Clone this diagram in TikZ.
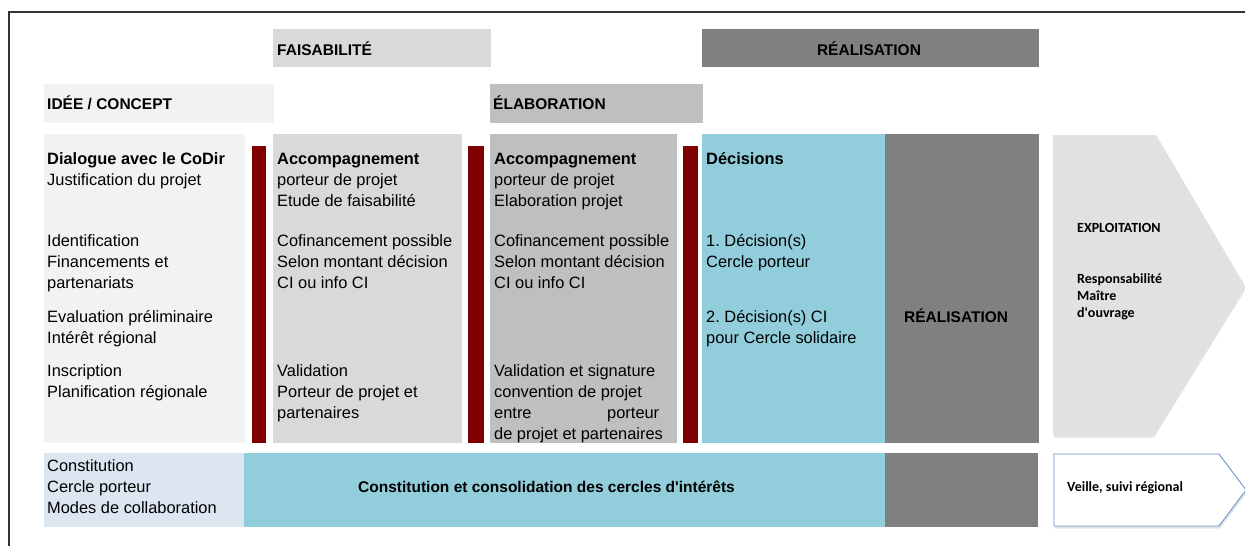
\documentclass[tikz,border=0pt]{standalone}
\usepackage{fontspec}
\setmainfont{Liberation Sans}
\newfontfamily\calib{Carlito}
\usetikzlibrary{shadows}
\definecolor{colA}{HTML}{F2F2F2}
\definecolor{colB}{HTML}{D9D9D9}
\definecolor{colC}{HTML}{BFBFBF}
\definecolor{colD}{HTML}{92CDDC}
\definecolor{colE}{HTML}{808080}
\definecolor{colF}{HTML}{DCE6F1}
\definecolor{colR}{HTML}{7F0000}
\definecolor{colX}{HTML}{E1E1E1}
\definecolor{colV}{HTML}{6A90CC}
\definecolor{frameC}{HTML}{333333}
\frenchspacing
\begin{document}
\begin{tikzpicture}[x=1pt,y=-1pt,
  lbl/.style={anchor=base west,inner sep=0pt,font=\fontsize{16.4}{21}\selectfont},
  blbl/.style={lbl,font=\fontsize{16.4}{21}\selectfont\bfseries},
  hdr/.style={anchor=base west,inner sep=0pt,font=\fontsize{15.5}{19}\selectfont\bfseries},
  cal/.style={anchor=base west,inner sep=0pt,font=\calib\fontsize{14}{17}\selectfont\bfseries},
  redbar/.style={fill=colR},
  shad/.style={drop shadow={shadow xshift=1pt,shadow yshift=-2.5pt,opacity=0.22}}]
\useasboundingbox (0,0) rectangle (1245,546);
\fill[white] (0,0) rectangle (1245,546);
% frame
\draw[line width=1.4pt,frameC] (9,547) -- (9,12) -- (1250,12);
% headers
\fill[colB] (273,29) rectangle (491,67);
\fill[colE] (702,29) rectangle (1039,67);
\fill[colA] (44,84) rectangle (274,123);
\fill[colC] (490,84) rectangle (703,123);
\node[hdr] (hfais) at (277,55) {FAISABILITÉ};
\node[hdr,anchor=base] (hreal) at (869,55) {RÉALISATION};
\node[hdr] (hidee) at (47,109) {IDÉE / CONCEPT};
\node[hdr] (helab) at (493,109) {ÉLABORATION};
% main columns
\fill[colA] (44,134) rectangle (245,443);
\fill[redbar] (252,146) rectangle (266,443);
\fill[colB] (273,134) rectangle (462,443);
\fill[redbar] (468,146) rectangle (484,443);
\fill[colC] (490,134) rectangle (677,443);
\fill[redbar] (683,146) rectangle (698,443);
\fill[colD] (702,134) rectangle (885,443);
\fill[colE] (885,134) rectangle (1039,443);
% exploitation arrow
\path[fill=colX,shad] (1053,135) -- (1156,135) -- (1245,286) -- (1153,435) -- (1053,435) -- cycle;
% bottom row
\fill[colF] (44,453) rectangle (244,527);
\fill[colD] (244,453) rectangle (885,527);
\fill[colE] (885,453) rectangle (1038,527);
\draw[colV,fill=white,line width=0.9pt,shad] (1054,454) -- (1219,454) -- (1246,490) -- (1219,526) -- (1054,526) -- cycle;
% column 1
\node[blbl] (a1) at (47,164) {Dialogue avec le CoDir};
\node[lbl] (a2) at (47,185) {Justification du projet};
\node[lbl] (a3) at (47,246) {Identification};
\node[lbl] (a4) at (47,267) {Financements et};
\node[lbl] (a5) at (47,288) {partenariats};
\node[lbl] (a6) at (47,322) {Evaluation préliminaire};
\node[lbl] (a7) at (47,343) {Intérêt régional};
\node[lbl] (a8) at (47,376) {Inscription};
\node[lbl] (a9) at (47,397) {Planification régionale};
% column 2
\node[blbl] (b1) at (277,164) {Accompagnement};
\node[lbl] (b2) at (277,185) {porteur de projet};
\node[lbl] (b3) at (277,206) {Etude de faisabilité};
\node[lbl] (b4) at (277,246) {Cofinancement possible};
\node[lbl] (b5) at (277,267) {Selon montant décision};
\node[lbl] (b6) at (277,288) {CI ou info CI};
\node[lbl] (b7) at (277,376) {Validation};
\node[lbl] (b8) at (277,397) {Porteur de projet et};
\node[lbl] (b9) at (277,418) {partenaires};
% column 3
\node[blbl] (c1) at (494,164) {Accompagnement};
\node[lbl] (c2) at (494,185) {porteur de projet};
\node[lbl] (c3) at (494,206) {Elaboration projet};
\node[lbl] (c4) at (494,246) {Cofinancement possible};
\node[lbl] (c5) at (494,267) {Selon montant décision};
\node[lbl] (c6) at (494,288) {CI ou info CI};
\node[lbl] (c7) at (494,376) {Validation et signature};
\node[lbl] (c8) at (494,397) {convention de projet};
\node[lbl] (c9) at (494,418) {\makebox[165pt][s]{entre\hfill porteur}};
\node[lbl] (c10) at (494,439) {de projet et partenaires};
% column 4
\node[blbl] (d1) at (706,164) {Décisions};
\node[lbl] (d2) at (706,246) {1. Décision(s)};
\node[lbl] (d3) at (706,267) {Cercle porteur};
\node[lbl] (d4) at (706,322) {2. Décision(s) CI};
\node[lbl] (d5) at (706,343) {pour Cercle solidaire};
% column 5
\node[hdr] (e1) at (904,322) {RÉALISATION};
% exploitation
\node[cal] (x1) at (1077,232) {EXPLOITATION};
\node[cal] (x2) at (1077,283) {Responsabilité};
\node[cal] (x3) at (1077,300) {Maître};
\node[cal] (x4) at (1077,317) {d\textquotesingle ouvrage};
% bottom row texts
\node[lbl] (f1) at (47,471) {Constitution};
\node[lbl] (f2) at (47,492) {Cercle porteur};
\node[lbl] (f3) at (47,513) {Modes de collaboration};
\node[hdr] (g1) at (358,492) {Constitution et consolidation des cercles d\textquotesingle intérêts};
\node[cal] (v1) at (1067,491) {Veille, suivi régional};
\end{tikzpicture}
\end{document}
